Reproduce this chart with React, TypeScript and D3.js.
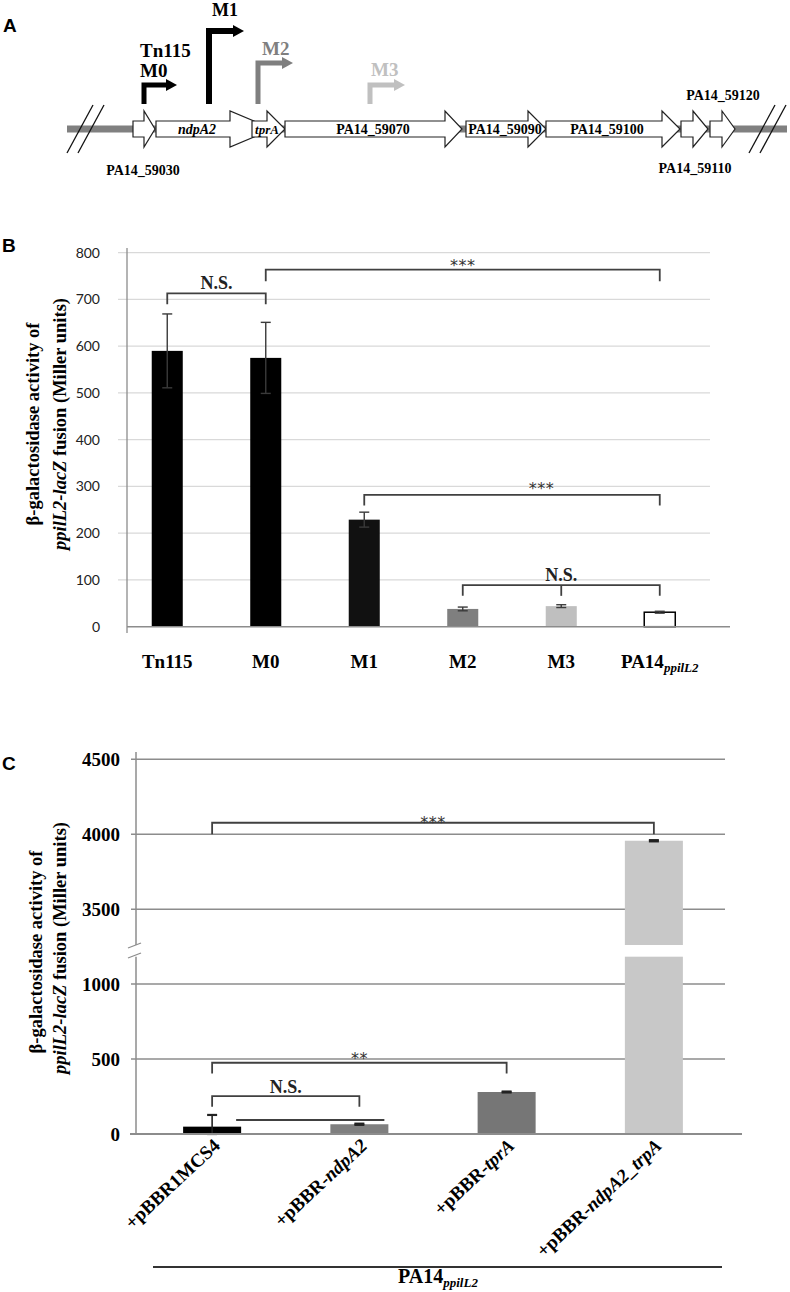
import React from 'react';
import * as d3 from 'd3';

const SERIF = '"Liberation Serif", "Times New Roman", serif';
const SANS = '"Liberation Sans", Arial, sans-serif';
const CAL = 'Lato, "Open Sans", sans-serif';
const STAR = '"DejaVu Sans", sans-serif';

// ---------- Panel A: gene map ----------
const geneLabels = ['PA14_59030', 'ndpA2', 'tprA', 'PA14_59070', 'PA14_59090', 'PA14_59100', 'PA14_59110', 'PA14_59120'];
const geneStart = [133, 156, 252, 285, 466, 546, 681, 710];
const geneHeadStart = [144, 230, 267, 445, 528, 662, 693, 722];
const geneEnd = [155, 273, 285, 462, 546, 680, 708, 735];
const geneItalic = [false, true, true, false, false, false, false, false];
const geneLabelPlace = ['below', 'inside', 'inside', 'inside', 'inside', 'inside', 'below', 'above'];
const geneLabelX = [143, 197, 267, 373, 505, 607, 695, 723];

const promoterNames = ['M0', 'M1', 'M2', 'M3'];
const promoterPos = [144, 209, 258, 370];
const promoterTop = [85, 31, 63, 85];
const promoterTip = [177, 244, 293, 405];
const promoterColors = ['#000000', '#000000', '#7f7f7f', '#c0c0c0'];

// ---------- Panel B ----------
const bCategories = ['Tn115', 'M0', 'M1', 'M2', 'M3', 'PA14'];
const bValues = [590, 575, 229, 38, 44, 31];
const bErrors = [79, 76, 16, 4, 3, 2];
const bFills = ['#000000', '#000000', '#111111', '#7f7f7f', '#bfbfbf', '#ffffff'];
const bTicks = [0, 100, 200, 300, 400, 500, 600, 700, 800];
// brackets: [fromIndex, toIndex, level, legEnd, label, labelFraction, midIndex]
const bBrackets: [number, number, number, number, string, number, number | null][] = [
  [0, 1, 713, 690, 'N.S.', 0.5, null],
  [1, 5, 764, 739, '***', 0.5, null],
  [2, 5, 282, 259, '***', 0.6, null],
  [3, 5, 89, 66, 'N.S.', 0.5, 4],
];

// ---------- Panel C ----------
const cCategories = ['+pBBR1MCS4', '+pBBR-ndpA2', '+pBBR-tprA', '+pBBR-ndpA2_trpA'];
const cLabelParts: [string, boolean][][] = [
  [['+pBBR1MCS4', false]],
  [['+pBBR-', false], ['ndpA2', true]],
  [['+pBBR-', false], ['tprA', true]],
  [['+pBBR-', false], ['ndpA2_trpA', true]],
];
const cValues = [49, 65, 280, 3957];
const cErrors = [78, 4, 3, 4];
const cFills = ['#000000', '#7f7f7f', '#767676', '#c8c8c8'];
const cLowTicks = [0, 500, 1000];
const cHighTicks = [3500, 4000, 4500];
const cLowMax = 1182;
const cHighMin = 3262;
const cBrackets: [number, number, number, number, string][] = [
  [0, 2, 475, 404, '**'],
  [0, 1, 253, 182, 'N.S.'],
];
const cTopBracket: [number, number, number, number, string] = [0, 3, 4077, 4000, '***'];
const cExtraLineValue = 93;

export default function App() {
  const gx = d3.scaleLinear().domain([0, 790]).range([0, 790]);
  const lineY = 129;

  const bx = d3.scaleBand<string>().domain(bCategories).range([118, 709]).paddingInner(0.685).paddingOuter(0.3425);
  const by = d3.scaleLinear().domain([0, 800]).range([626.7, 252.7]);
  const bCenter = (i: number) => (bx(bCategories[i]) as number) + bx.bandwidth() / 2;

  const cx = d3.scaleBand<string>().domain(cCategories).range([138.5, 727.5]).paddingInner(0.606).paddingOuter(0.303);
  const cyLow = d3.scaleLinear().domain([0, 1000]).range([1134, 984]);
  const cyHigh = d3.scaleLinear().domain([3500, 4500]).range([909.3, 759.3]);
  const cCenter = (i: number) => (cx(cCategories[i]) as number) + cx.bandwidth() / 2;
  const cY = (v: number) => (v >= cHighMin ? cyHigh(v) : cyLow(v));

  const bracketColor = '#404040';
  const starOffsetB = [0, 1.5, -0.5, 0];

  return (
    <svg width={790} height={1292} style={{ position: 'absolute', left: 0, top: 0, background: '#fff' }}>
      <rect x={0} y={0} width={790} height={1292} fill="#fff" />

      {/* ================= Panel A ================= */}
      <text x={3} y={32} fontFamily={SANS} fontWeight="bold" fontSize={19}>A</text>
      <line x1={gx(67)} x2={gx(787)} y1={lineY} y2={lineY} stroke="#808080" strokeWidth={7} />
      {[[67, 93], [78, 104], [749, 775], [760, 786]].map(([a, b], i) => (
        <line key={'sl' + i} x1={gx(a)} y1={153} x2={gx(b)} y2={105} stroke="#111" strokeWidth={1.3} />
      ))}
      {geneLabels.map((g, i) => {
        const s = gx(geneStart[i]), h = gx(geneHeadStart[i]), e = gx(geneEnd[i]);
        const pts = [[s, 121], [h, 121], [h, 111], [e, 129], [h, 147], [h, 137], [s, 137]];
        return (
          <polygon key={'g' + i} points={pts.map((p) => p.join(',')).join(' ')} fill="#fff" stroke="#222" strokeWidth={1.2} />
        );
      })}
      {geneLabels.map((g, i) => {
        const place = geneLabelPlace[i];
        const y = place === 'inside' ? 134 : place === 'above' ? 100 : i === 0 ? 175 : 173;
        return (
          <text key={'gl' + i} x={gx(geneLabelX[i])} y={y} textAnchor="middle" fontFamily={SERIF} fontWeight="bold"
            fontStyle={geneItalic[i] ? 'italic' : 'normal'} fontSize={g === 'tprA' ? 13 : 14}>{g}</text>
        );
      })}
      {promoterNames.map((p, i) => {
        const x = gx(promoterPos[i]);
        const top = promoterTop[i];
        const tip = gx(promoterTip[i]);
        const w = i === 1 ? 6 : 5;
        const c = promoterColors[i];
        return (
          <g key={'pr' + i}>
            <path d={`M${x},104 L${x},${top} L${tip - 10},${top}`} fill="none" stroke={c} strokeWidth={w} strokeLinejoin="miter" strokeLinecap="butt" />
            <polygon points={`${tip - 11},${top - 6} ${tip},${top} ${tip - 11},${top + 6}`} fill={c} />
          </g>
        );
      })}
      <text x={140} y={57} fontFamily={SERIF} fontWeight="bold" fontSize={19}>Tn115</text>
      <text x={140} y={77} fontFamily={SERIF} fontWeight="bold" fontSize={19}>M0</text>
      <text x={212} y={16} fontFamily={SERIF} fontWeight="bold" fontSize={18}>M1</text>
      <text x={262} y={55} fontFamily={SERIF} fontWeight="bold" fontSize={19} fill="#7f7f7f">M2</text>
      <text x={371} y={76} fontFamily={SERIF} fontWeight="bold" fontSize={19} fill="#c0c0c0">M3</text>

      {/* ================= Panel B ================= */}
      <text x={2} y={252} fontFamily={SANS} fontWeight="bold" fontSize={19}>B</text>
      {bTicks.map((t) => (
        <g key={'bt' + t}>
          {t > 0 && <line x1={118} x2={710} y1={by(t)} y2={by(t)} stroke="#d9d9d9" strokeWidth={1.3} />}
          <text x={100} y={by(t) + 5} textAnchor="end" fontFamily={CAL} fontSize={14} fill="#222">{t}</text>
        </g>
      ))}
      {bCategories.map((c, i) => (
        <rect key={'bb' + i} x={bx(c)} y={by(bValues[i])} width={bx.bandwidth()} height={by(0) - by(bValues[i])}
          fill={bFills[i]} stroke={i === 5 ? '#000' : 'none'} strokeWidth={1.5} />
      ))}
      {bCategories.map((c, i) => {
        const x = bCenter(i);
        const y1 = by(bValues[i] + bErrors[i]);
        const y2 = by(bValues[i] - bErrors[i]);
        return (
          <g key={'be' + i} stroke="#3a3a3a" strokeWidth={1.4}>
            <line x1={x} x2={x} y1={y1} y2={y2} />
            <line x1={x - 5} x2={x + 5} y1={y1} y2={y1} />
            <line x1={x - 5} x2={x + 5} y1={y2} y2={y2} />
          </g>
        );
      })}
      <line x1={127} x2={127} y1={248} y2={633} stroke="#8c8c8c" strokeWidth={1.3} />
      <line x1={127} x2={730} y1={by(0)} y2={by(0)} stroke="#8c8c8c" strokeWidth={1.5} />
      {bBrackets.map(([a, b, level, leg, label, frac, mid], i) => {
        const x1 = bCenter(a), x2 = bCenter(b);
        const yl = by(level), yg = by(leg);
        const isStar = label.startsWith('*');
        const tx = mid !== null ? bCenter(mid) : x1 + (x2 - x1) * frac;
        return (
          <g key={'bk' + i}>
            <path d={`M${x1},${yg} L${x1},${yl} L${x2},${yl} L${x2},${yg}`} fill="none" stroke={bracketColor} strokeWidth={1.8} />
            {mid !== null && <line x1={bCenter(mid)} x2={bCenter(mid)} y1={yl} y2={yg} stroke={bracketColor} strokeWidth={1.8} />}
            <text x={tx} y={isStar ? yl + starOffsetB[i] : yl - 4} textAnchor="middle"
              fontFamily={isStar ? STAR : SERIF} fontWeight={isStar ? 'normal' : 'bold'}
              fontSize={isStar ? 16 : 18} letterSpacing={isStar ? 0.5 : 0} fill={isStar ? '#333' : '#222'}>{label}</text>
          </g>
        );
      })}
      {bCategories.map((c, i) => (
        <text key={'bl' + i} x={bCenter(i)} y={668} textAnchor="middle" fontFamily={SERIF} fontWeight="bold" fontSize={19}>
          {c === 'PA14' ? (
            <>
              PA14<tspan fontStyle="italic" fontSize={13} dy={4}>ppilL2</tspan>
            </>
          ) : c}
        </text>
      ))}
      <text transform="translate(39,424) rotate(-90)" textAnchor="middle" fontFamily={SERIF} fontWeight="bold" fontSize={18.5}>
        β-galactosidase activity of
      </text>
      <text transform="translate(66,424) rotate(-90)" textAnchor="middle" fontFamily={SERIF} fontWeight="bold" fontSize={18.5}>
        <tspan fontStyle="italic">ppilL2-lacZ</tspan> fusion (Miller units)
      </text>

      {/* ================= Panel C ================= */}
      <text x={2} y={770} fontFamily={SANS} fontWeight="bold" fontSize={19}>C</text>
      {cHighTicks.map((t) => (
        <g key={'cht' + t}>
          <line x1={131} x2={725} y1={cyHigh(t)} y2={cyHigh(t)} stroke="#8c8c8c" strokeWidth={1.5} />
          <text x={120} y={cyHigh(t) + 6.5} textAnchor="end" fontFamily={SERIF} fontWeight="bold" fontSize={19}>{t}</text>
        </g>
      ))}
      {cLowTicks.map((t) => (
        <g key={'clt' + t}>
          {t > 0 && <line x1={131} x2={725} y1={cyLow(t)} y2={cyLow(t)} stroke="#8c8c8c" strokeWidth={1.5} />}
          <text x={120} y={cyLow(t) + 6.5} textAnchor="end" fontFamily={SERIF} fontWeight="bold" fontSize={19}>{t}</text>
        </g>
      ))}
      {cCategories.map((c, i) => {
        const v = cValues[i];
        const x = cx(c) as number;
        const w = cx.bandwidth();
        if (v > cLowMax) {
          return (
            <g key={'cb' + i}>
              <rect x={x} y={cyHigh(v)} width={w} height={cyHigh(cHighMin) - cyHigh(v)} fill={cFills[i]} />
              <rect x={x} y={cyLow(cLowMax)} width={w} height={cyLow(0) - cyLow(cLowMax)} fill={cFills[i]} />
            </g>
          );
        }
        return <rect key={'cb' + i} x={x} y={cyLow(v)} width={w} height={cyLow(0) - cyLow(v)} fill={cFills[i]} />;
      })}
      {cCategories.map((c, i) => {
        const x = cCenter(i);
        const v = cValues[i];
        const y1 = cY(v + cErrors[i]);
        const y2 = cY(Math.max(0, v - cErrors[i]));
        return (
          <g key={'ce' + i} stroke="#222" strokeWidth={1.6}>
            <line x1={x} x2={x} y1={y1} y2={y2} />
            <line x1={x - 5} x2={x + 5} y1={y1} y2={y1} strokeWidth={2.2} />
            <line x1={x - 5} x2={x + 5} y1={y2} y2={y2} strokeWidth={2.2} />
          </g>
        );
      })}
      <line x1={136} x2={136} y1={752} y2={cyHigh(cHighMin)} stroke="#8c8c8c" strokeWidth={1.5} />
      <line x1={136} x2={136} y1={cyLow(cLowMax)} y2={cyLow(0)} stroke="#8c8c8c" strokeWidth={1.5} />
      <line x1={128} x2={141} y1={948} y2={943} stroke="#8c8c8c" strokeWidth={1.3} />
      <line x1={128} x2={141} y1={958} y2={953} stroke="#8c8c8c" strokeWidth={1.3} />
      <line x1={130} x2={742} y1={cyLow(0)} y2={cyLow(0)} stroke="#8c8c8c" strokeWidth={2} />

      {(() => {
        const [a, b, level, leg, label] = cTopBracket;
        const x1 = cCenter(a), x2 = cCenter(b);
        const yl = cyHigh(level), yg = cyHigh(leg);
        return (
          <g>
            <path d={`M${x1},${yg} L${x1},${yl} L${x2},${yl} L${x2},${yg}`} fill="none" stroke={bracketColor} strokeWidth={1.8} />
            <text x={(x1 + x2) / 2} y={yl + 5} textAnchor="middle" fontFamily={STAR} fontSize={16} letterSpacing={0.5} fill="#333">{label}</text>
          </g>
        );
      })()}
      {cBrackets.map(([a, b, level, leg, label], i) => {
        const x1 = cCenter(a), x2 = cCenter(b);
        const yl = cyLow(level), yg = cyLow(leg);
        const isStar = label.startsWith('*');
        return (
          <g key={'ck' + i}>
            <path d={`M${x1},${yg} L${x1},${yl} L${x2},${yl} L${x2},${yg}`} fill="none" stroke={bracketColor} strokeWidth={1.8} />
            <text x={(x1 + x2) / 2} y={isStar ? yl + 1.5 : yl - 3} textAnchor="middle"
              fontFamily={isStar ? STAR : SERIF} fontWeight={isStar ? 'normal' : 'bold'}
              fontSize={isStar ? 16 : 18} letterSpacing={isStar ? 0.5 : 0} fill={isStar ? '#333' : '#222'}>{label}</text>
          </g>
        );
      })}
      <line x1={cCenter(0) + 24} x2={cCenter(1) + 25} y1={cyLow(cExtraLineValue)} y2={cyLow(cExtraLineValue)} stroke={bracketColor} strokeWidth={2} />

      {cCategories.map((c, i) => (
        <text key={'cl' + i} transform={`translate(${cCenter(i) + 9},1147) rotate(-43)`} textAnchor="end"
          fontFamily={SERIF} fontWeight="bold" fontSize={19}>
          {cLabelParts[i].map(([s, it], j) => (
            <tspan key={j} fontStyle={it ? 'italic' : 'normal'}>{s}</tspan>
          ))}
        </text>
      ))}
      <line x1={153} x2={722} y1={1267} y2={1267} stroke="#333" strokeWidth={2} />
      <text x={438} y={1283} textAnchor="middle" fontFamily={SERIF} fontWeight="bold" fontSize={20}>
        PA14<tspan fontStyle="italic" fontSize={13} dy={4}>ppilL2</tspan>
      </text>
      <text transform="translate(42,952) rotate(-90)" textAnchor="middle" fontFamily={SERIF} fontWeight="bold" fontSize={18.5}>
        β-galactosidase activity of
      </text>
      <text transform="translate(66,948) rotate(-90)" textAnchor="middle" fontFamily={SERIF} fontWeight="bold" fontSize={18.5}>
        <tspan fontStyle="italic">ppilL2-lacZ</tspan> fusion (Miller units)
      </text>
    </svg>
  );
}
